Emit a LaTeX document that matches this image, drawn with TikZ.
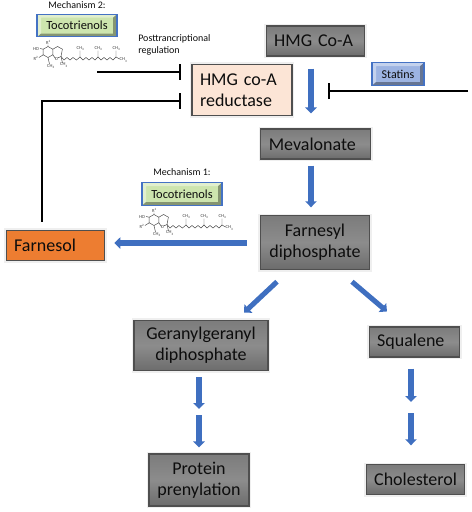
\documentclass[tikz,border=0pt]{standalone}
\usepackage{fontspec}
\setmainfont{Carlito}
\usetikzlibrary{arrows.meta,positioning,calc}
\definecolor{Ink}{HTML}{0D0D0D}
\definecolor{Flow}{HTML}{3F6FC0}
\definecolor{BoxEdge}{HTML}{4F4F4F}
\definecolor{BoxTop}{HTML}{7C7C7C}
\definecolor{BoxMid}{HTML}{8C8C8C}
\definecolor{BoxBottom}{HTML}{6C6C6C}
\definecolor{Halo}{HTML}{EFEFEF}
\definecolor{Reductase}{HTML}{FCE5D6}
\definecolor{FarnesolFill}{HTML}{ED7D31}
\definecolor{GelEdge}{HTML}{4472C4}
\definecolor{GelGreen}{HTML}{CDE5AE}
\definecolor{GelBlue}{HTML}{9DB4E2}
\definecolor{Mol}{HTML}{444444}
\tikzset{
  flatbox/.style={draw=BoxEdge,line width=0.8pt,text=Ink,font=\fontsize{13.5}{16}\selectfont,inner sep=0pt,
    preaction={draw=Halo,line width=3.5pt},align=center},
  procbox/.style={flatbox,top color=BoxTop,bottom color=BoxBottom,middle color=BoxMid},
  leftbox/.style={inner xsep=6pt,align=left},
  gelbox/.style={draw=GelEdge,line width=0.8pt,fill=#1,text=Ink,inner sep=0pt,
    font=\fontsize{9.3}{11}\selectfont,
    path picture={
      \fill[black,opacity=.35] (path picture bounding box.south west)
        -- (path picture bounding box.south east) -- (path picture bounding box.north east)
        -- ([xshift=-3pt,yshift=-2.5pt]path picture bounding box.north east)
        -- ([xshift=-3pt,yshift=2.5pt]path picture bounding box.south east)
        -- ([xshift=3pt,yshift=2.5pt]path picture bounding box.south west) -- cycle;
      \fill[white,opacity=.4] (path picture bounding box.south west)
        -- (path picture bounding box.north west) -- (path picture bounding box.north east)
        -- ([xshift=-3pt,yshift=-2.5pt]path picture bounding box.north east)
        -- ([xshift=3pt,yshift=-2.5pt]path picture bounding box.north west)
        -- ([xshift=3pt,yshift=2.5pt]path picture bounding box.south west) -- cycle;
    }},
  caption/.style={text=Ink,inner sep=0pt,font=\fontsize{7.5}{9}\selectfont,align=left},
  flow/.style={draw=Flow,line width=3.8pt,-{Triangle[length=4.5pt,width=8.5pt]}},
  halt/.style={draw=black,line width=1.5pt,-{Bar[width=12pt]}},
  mollabel/.style={text=Mol,inner sep=0pt,font=\fontsize{3.5}{3.5}\selectfont},
  pics/tocomol/.style={code={
    \draw[Mol,line width=0.35pt] (20,8.5) -- (24.8,11.2) -- (24.8,16.8) -- (20,19.5) -- (15.2,16.8) -- (15.2,11.2) -- cycle;
    \draw[Mol,line width=0.35pt] (24.8,11.2) -- (29.6,8.5) -- (34.4,11.2) -- (33,18.5) -- (29.6,20) (27.5,20.5) -- (24.8,16.8);
    \draw[Mol,line width=0.35pt] (33,18.5) -- (36,22) -- (39,19.5) -- (42,22) -- (45,19.5) -- (48.5,22) -- (52,19)
      -- (55,22) -- (58,19.5) -- (61,22) -- (64,19.5) -- (67,22) -- (70,19) -- (73,22) -- (76,19.5) -- (79,22)
      -- (82,19.5) -- (85,22) -- (88,19) -- (91.5,21);
    \draw[Mol,line width=0.35pt] (52,19) -- (52,12.5) (70,19) -- (70,12.5) (88,19) -- (88,12.5) (33,18.5) -- (34.5,25)
      (20,8.5) -- (20,6.5) (15.2,11.2) -- (12,10.5) (15.2,16.8) -- (11,19.5) (20,19.5) -- (21.5,26);
    \node[mollabel] (ho) at (8,10.5) {HO};
    \node[mollabel] (rone) at (20.5,4.5) {R\textsuperscript{1}};
    \node[mollabel] (rtwo) at (8,20.5) {R\textsuperscript{2}};
    \node[mollabel] (oxy) at (28.5,21) {O};
    \node[mollabel] (mea) at (23,28.5) {CH\textsubscript{3}};
    \node[mollabel] (meb) at (36,27) {CH\textsubscript{3}};
    \node[mollabel] (mec) at (52.5,10.5) {CH\textsubscript{3}};
    \node[mollabel] (med) at (70.5,10.5) {CH\textsubscript{3}};
    \node[mollabel] (mee) at (88.5,10.5) {CH\textsubscript{3}};
    \node[mollabel] (mef) at (95.5,22) {CH\textsubscript{3}};
  }}
}
\begin{document}
\begin{tikzpicture}[x=0.75pt,y=-0.75pt,>=stealth]
\useasboundingbox (0,0) rectangle (472,512);
% pathway boxes
\node[procbox,leftbox,text width=62pt,minimum height=22.5pt] (hmg) at (315.5,41) {HMG Co-A};
\node[flatbox,fill=Reductase,leftbox,text width=63pt,minimum height=38pt] (red) at (242,90) {HMG co-A\\reductase};
\node[procbox,leftbox,text width=70pt,minimum height=22.5pt] (meva) at (315.5,144) {Mevalonate};
\node[procbox,minimum width=82pt,minimum height=40pt] (farn) at (315,242.5) {Farnesyl\\diphosphate};
\node[flatbox,fill=FarnesolFill,leftbox,text width=62pt,minimum height=23pt] (fol) at (55.5,245.5) {Farnesol};
\node[procbox,minimum width=100.5pt,minimum height=38pt] (ger) at (201,345.5) {Geranylgeranyl\\diphosphate};
\node[procbox,leftbox,text width=56pt,minimum height=22.5pt] (squa) at (414.5,342) {Squalene};
\node[procbox,minimum width=75pt,minimum height=39pt] (prot) at (199,480) {Protein\\prenylation};
\node[procbox,leftbox,text width=62pt,minimum height=22pt] (chol) at (415.5,479.5) {Cholesterol};
% inhibitors
\node[caption] (mechtwo) at (77,5) {Mechanism 2:};
\node[gelbox=GelGreen,minimum width=60pt,minimum height=17pt] (tocotwo) at (77,25.5) {Tocotrienols};
\pic (moltwo) at (28,38) {tocomol};
\node[caption,anchor=west] (post) at (138,45) {Posttrancriptional\\regulation};
\node[caption] (mechone) at (182,172) {Mechanism 1:};
\node[gelbox=GelGreen,minimum width=60pt,minimum height=17pt] (tocoone) at (182,194) {Tocotrienols};
\pic (molone) at (134,206) {tocomol};
\node[gelbox=GelBlue,minimum width=39pt,minimum height=17pt,font=\fontsize{9}{11}\selectfont] (stat) at (398,74) {Statins};
% free ends
\coordinate (postfrom) at (97,72);
\coordinate (statfrom) at (468,91);
\coordinate (statto) at (328,91);
\coordinate (gerstepa) at (199,409);
\coordinate (gerstepb) at (199,415);
\coordinate (squastepa) at (411,402);
\coordinate (squastepb) at (411,413);
% connectors
\draw[flow] ([shift={(-4.5,12)}]hmg.south) -- ([shift={(-4.5,-15)}]meva.north);
\draw[flow] ([shift={(-4.5,6)}]meva.south) -- ([shift={(-4,-8)}]farn.north);
\draw[flow] ([shift={(-13,0.5)}]farn.west) -- ([shift={(9,-2.5)}]fol.east);
\draw[flow] ([shift={(-38,12)}]farn.south) -- ([shift={(43,-7)}]ger.north);
\draw[flow] ([shift={(37,12)}]farn.south) -- ([shift={(-27.5,-15)}]squa.north);
\draw[flow] ([shift={(-2,6)}]ger.south) -- (gerstepa);
\draw[flow] (gerstepb) -- ([shift={(0,-6)}]prot.north);
\draw[flow] ([shift={(-3.5,11)}]squa.south) -- (squastepa);
\draw[flow] (squastepb) -- ([shift={(-4.5,-19)}]chol.north);
\draw[halt] (postfrom) -- ([shift={(-10,-18)}]red.west);
\draw[halt] ([shift={(-13.5,-8)}]fol.north) |- ([shift={(-10,11)}]red.west);
\draw[halt] (statfrom) -- (statto);
\end{tikzpicture}
\end{document}
